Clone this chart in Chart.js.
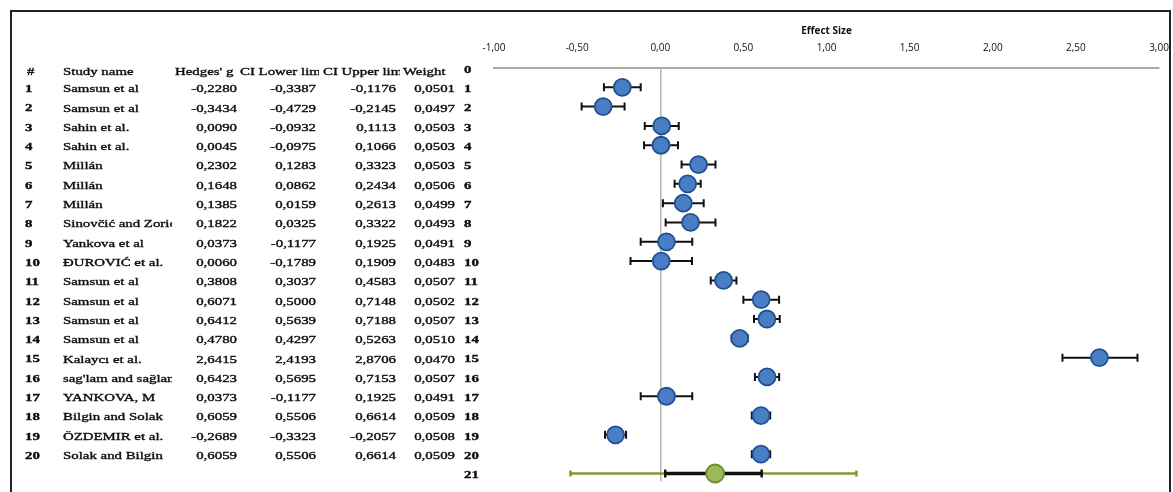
<!DOCTYPE html>
<html>
<head>
<meta charset="utf-8">
<script src="https://cdn.jsdelivr.net/npm/chart.js@4/dist/chart.umd.min.js"></script>
<style>
  html, body { margin: 0; padding: 0; background: #fff; }
  #wrap { position: relative; width: 1173px; height: 492px; }
</style>
</head>
<body>
<div id="wrap"><canvas id="c" width="1173" height="492"></canvas></div>
<script>
// ---- Data ----
const studyNames = [
  "Samsun et al", "Samsun et al", "Sahin et al.", "Sahin et al.", "Millán", "Millán", "Millán",
  "Sinovčić and Zorić", "Yankova et al", "ĐUROVIĆ et al.", "Samsun et al", "Samsun et al",
  "Samsun et al", "Samsun et al", "Kalaycı et al.", "sag'lam and sağlam", "YANKOVA, M",
  "Bilgin and Solak", "ÖZDEMIR et al.", "Solak and Bilgin"
];
const hedgesG = [-0.2280, -0.3434, 0.0090, 0.0045, 0.2302, 0.1648, 0.1385, 0.1822, 0.0373, 0.0060,
  0.3808, 0.6071, 0.6412, 0.4780, 2.6415, 0.6423, 0.0373, 0.6059, -0.2689, 0.6059];
const ciLower = [-0.3387, -0.4729, -0.0932, -0.0975, 0.1283, 0.0862, 0.0159, 0.0325, -0.1177, -0.1789,
  0.3037, 0.5000, 0.5639, 0.4297, 2.4193, 0.5695, -0.1177, 0.5506, -0.3323, 0.5506];
const ciUpper = [-0.1176, -0.2145, 0.1113, 0.1066, 0.3323, 0.2434, 0.2613, 0.3322, 0.1925, 0.1909,
  0.4583, 0.7148, 0.7188, 0.5263, 2.8706, 0.7153, 0.1925, 0.6614, -0.2057, 0.6614];
const weights = [0.0501, 0.0497, 0.0503, 0.0503, 0.0503, 0.0506, 0.0499, 0.0493, 0.0491, 0.0483,
  0.0507, 0.0502, 0.0507, 0.0510, 0.0470, 0.0507, 0.0491, 0.0509, 0.0508, 0.0509];
const summaryG = [0.33];
const summaryCI = [0.03, 0.61];
const predInterval = [-0.54, 1.18];
const rowLabels = ["0","1","2","3","4","5","6","7","8","9","10","11","12","13","14","15","16","17","18","19","20","21"];
const headers = ["#", "Study name", "Hedges' g", "CI Lower lim", "CI Upper lim", "Weight"];
const xTickValues = [-1, -0.5, 0, 0.5, 1, 1.5, 2, 2.5, 3];

const fmt = (v, d) => v.toFixed(d).replace('.', ',');

const SERIF = '"Liberation Serif", "DejaVu Serif", serif';
const SX = 1.35;

function sText(ctx, text, x, y, align) {
  ctx.save();
  ctx.translate(x, y);
  ctx.scale(SX, 1);
  ctx.textAlign = align;
  ctx.lineWidth = 0.35;
  ctx.strokeStyle = ctx.fillStyle;
  ctx.fillText(text, 0, 0);
  ctx.strokeText(text, 0, 0);
  ctx.restore();
}

const tablePlugin = {
  id: 'tablePlugin',
  beforeDraw(chart) {
    const ctx = chart.ctx;
    ctx.save();
    ctx.fillStyle = '#fff';
    ctx.fillRect(0, 0, chart.width, chart.height);
    ctx.restore();
  },
  afterDraw(chart) {
    const ctx = chart.ctx;
    const ys = chart.scales.y;
    ctx.save();
    ctx.fillStyle = '#0d0d0d';
    ctx.textBaseline = 'middle';
    ctx.font = '11px ' + SERIF;
    const off = 2;
    // header
    const hy = ys.getPixelForValue(0) + off + 2;
    const hx = [27, 63, 175, 240, 323, 403];
    const hclip = [60, 172, 239, 319, 400, 460];
    headers.forEach((h, i) => {
      ctx.save();
      ctx.beginPath();
      ctx.rect(hx[i] - 2, hy - 10, hclip[i] - hx[i] + 2, 20);
      ctx.clip();
      sText(ctx, h, hx[i], hy, 'left');
      ctx.restore();
    });
    // rows
    studyNames.forEach((name, i) => {
      const y = ys.getPixelForValue(i + 1) + off;
      ctx.font = 'bold 11px ' + SERIF;
      sText(ctx, String(i + 1), 25, y, 'left');
      ctx.font = '11px ' + SERIF;
      ctx.save();
      ctx.beginPath();
      ctx.rect(60, y - 10, 112, 20);
      ctx.clip();
      sText(ctx, name, 63, y, 'left');
      ctx.restore();
      sText(ctx, fmt(hedgesG[i], 4), 237, y, 'right');
      sText(ctx, fmt(ciLower[i], 4), 316, y, 'right');
      sText(ctx, fmt(ciUpper[i], 4), 396, y, 'right');
      sText(ctx, fmt(weights[i], 4), 455, y, 'right');
    });
    // row numbers next to plot
    ctx.font = 'bold 11px ' + SERIF;
    rowLabels.forEach((lab, i) => {
      sText(ctx, lab, 464, ys.getPixelForValue(i) + off, 'left');
    });
    // frame
    ctx.strokeStyle = '#222';
    ctx.lineWidth = 2;
    ctx.beginPath();
    ctx.moveTo(11, 500);
    ctx.lineTo(11, 11);
    ctx.lineTo(1170, 11);
    ctx.lineTo(1170, 500);
    ctx.stroke();
    ctx.restore();
  }
};

const errorBarPlugin = {
  id: 'errorBars',
  beforeDatasetsDraw(chart) {
    const ctx = chart.ctx;
    const xs = chart.scales.x, ys = chart.scales.y;
    ctx.save();
    ctx.strokeStyle = '#111';
    ctx.lineWidth = 2;
    ciLower.forEach((lo, i) => {
      const y = ys.getPixelForValue(i + 1);
      const x1 = xs.getPixelForValue(lo), x2 = xs.getPixelForValue(ciUpper[i]);
      ctx.beginPath();
      ctx.moveTo(x1, y); ctx.lineTo(x2, y);
      ctx.moveTo(x1, y - 4); ctx.lineTo(x1, y + 4);
      ctx.moveTo(x2, y - 4); ctx.lineTo(x2, y + 4);
      ctx.stroke();
    });
    const sy = ys.getPixelForValue(21);
    const p1 = xs.getPixelForValue(predInterval[0]), p2 = xs.getPixelForValue(predInterval[1]);
    ctx.strokeStyle = '#7E9C32';
    ctx.lineWidth = 2.5;
    ctx.beginPath();
    ctx.moveTo(p1, sy); ctx.lineTo(p2, sy);
    ctx.moveTo(p1, sy - 3); ctx.lineTo(p1, sy + 3);
    ctx.moveTo(p2, sy - 3); ctx.lineTo(p2, sy + 3);
    ctx.stroke();
    const c1 = xs.getPixelForValue(summaryCI[0]), c2 = xs.getPixelForValue(summaryCI[1]);
    ctx.strokeStyle = '#111';
    ctx.lineWidth = 3.5;
    ctx.beginPath();
    ctx.moveTo(c1, sy); ctx.lineTo(c2, sy);
    ctx.stroke();
    ctx.lineWidth = 2.5;
    ctx.beginPath();
    ctx.moveTo(c1, sy - 4); ctx.lineTo(c1, sy + 4);
    ctx.moveTo(c2, sy - 4); ctx.lineTo(c2, sy + 4);
    ctx.stroke();
    ctx.restore();
  }
};

new Chart(document.getElementById('c'), {
  type: 'scatter',
  data: {
    datasets: [
      {
        label: 'Studies',
        data: hedgesG.map((g, i) => ({ x: g, y: i + 1 })),
        pointRadius: 8.5,
        pointHoverRadius: 8.5,
        backgroundColor: '#4A7EC4',
        borderColor: '#21508F',
        borderWidth: 1.8,
        clip: false
      },
      {
        label: 'Summary',
        data: summaryG.map(g => ({ x: g, y: 21 })),
        pointRadius: 9,
        pointHoverRadius: 9,
        backgroundColor: '#9BBB59',
        borderColor: '#6E8B2E',
        borderWidth: 1.8,
        clip: false
      }
    ]
  },
  options: {
    responsive: false,
    animation: false,
    events: [],
    layout: { padding: { left: 494, right: 14, top: 21, bottom: 0 } },
    plugins: { legend: { display: false }, tooltip: { enabled: false } },
    scales: {
      x: {
        type: 'linear',
        position: 'top',
        min: -1,
        max: 3,
        afterBuildTicks(scale) { scale.ticks = xTickValues.map(v => ({ value: v })); },
        afterFit(scale) { scale.paddingLeft = 0; scale.paddingRight = 0; },
        ticks: {
          padding: 14,
          color: '#111',
          font: { family: '"Open Sans", "Liberation Sans", sans-serif', size: 10 },
          callback: v => fmt(v, 2)
        },
        grid: {
          drawTicks: false,
          lineWidth: 1.5,
          color: ctx => (ctx.tick && ctx.tick.value === 0) ? '#b5b5b5' : 'rgba(0,0,0,0)'
        },
        border: { display: true, color: '#aaaaaa', width: 2 },
        title: {
          display: true,
          text: 'Effect Size',
          color: '#111',
          font: { family: '"Open Sans", "Liberation Sans", sans-serif', size: 10, weight: 'bold' },
          padding: { top: 4, bottom: -9 }
        }
      },
      y: {
        type: 'linear',
        display: false,
        reverse: true,
        min: 0,
        max: 21.4
      }
    }
  },
  plugins: [tablePlugin, errorBarPlugin]
});
</script>
</body>
</html>
